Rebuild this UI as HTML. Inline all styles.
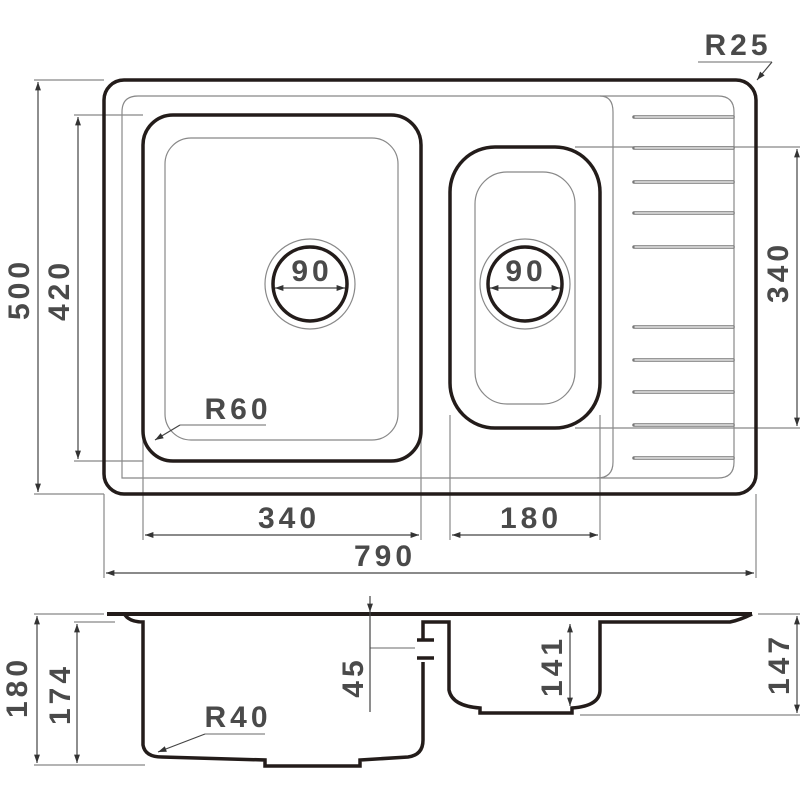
<!DOCTYPE html>
<html><head><style>
html,body{margin:0;padding:0;background:#fff;}
svg{display:block}
text{font-family:"Liberation Sans","DejaVu Sans",sans-serif;font-weight:bold;fill:#4a4a4a;font-size:30px;letter-spacing:4px;}
</style></head><body>
<svg width="800" height="800" viewBox="0 0 800 800" xmlns="http://www.w3.org/2000/svg">
<defs>
<marker id="a" viewBox="0 0 10 10" refX="10" refY="5" markerWidth="9" markerHeight="7" orient="auto-start-reverse"><path d="M0,1.5 L10,5 L0,8.5 z" fill="#333"/></marker>
</defs>
<g fill="none" stroke="#888" stroke-width="1.2">
<line x1="34" y1="80" x2="104" y2="80"/><line x1="34" y1="494" x2="104" y2="494"/>
<line x1="74" y1="115" x2="143" y2="115"/><line x1="74" y1="461" x2="143" y2="461"/>
<line x1="575" y1="147" x2="800" y2="147"/><line x1="575" y1="428" x2="800" y2="428"/>
<line x1="143" y1="435" x2="143" y2="540"/><line x1="421" y1="435" x2="421" y2="540"/>
<line x1="450" y1="415" x2="450" y2="540"/><line x1="600" y1="415" x2="600" y2="540"/>
<line x1="104" y1="494" x2="104" y2="578"/><line x1="756" y1="494" x2="756" y2="578"/>
<path d="M122,478 V112 Q122,96 138,96 H718 Q734,96 734,112 V462 Q734,478 718,478 Z"/>
<path d="M600,96 Q613,96 613,112 V462 Q613,478 597,478"/>
<rect x="165" y="138" width="233" height="302" rx="26"/>
<rect x="475" y="172" width="100" height="232" rx="32"/>
<circle cx="310" cy="284" r="45"/><circle cx="525" cy="284" r="45"/>
<line x1="698" y1="62" x2="772" y2="62"/>
<line x1="180" y1="425" x2="266" y2="425"/>
<line x1="205" y1="734" x2="265" y2="734"/>
<line x1="34" y1="614" x2="104" y2="614"/><line x1="34" y1="765" x2="145" y2="765"/>
<line x1="74" y1="622" x2="115" y2="622"/>
<line x1="758" y1="614" x2="800" y2="614"/><line x1="580" y1="715" x2="800" y2="715"/>
<line x1="370" y1="648" x2="415" y2="648"/>
</g>
<g fill="none" stroke="#777" stroke-width="3.5" stroke-linecap="round">
<line x1="634" y1="117" x2="733" y2="117"/><line x1="634" y1="148" x2="733" y2="148"/>
<line x1="634" y1="182" x2="733" y2="182"/><line x1="634" y1="213" x2="733" y2="213"/>
<line x1="634" y1="247" x2="733" y2="247"/><line x1="634" y1="327" x2="733" y2="327"/>
<line x1="634" y1="360" x2="733" y2="360"/><line x1="634" y1="392" x2="733" y2="392"/>
<line x1="634" y1="425" x2="733" y2="425"/><line x1="634" y1="458" x2="733" y2="458"/>
</g>
<g fill="none" stroke="#fff" stroke-width="1.2" stroke-linecap="round">
<line x1="635" y1="117" x2="733" y2="117"/><line x1="635" y1="148" x2="733" y2="148"/>
<line x1="635" y1="182" x2="733" y2="182"/><line x1="635" y1="213" x2="733" y2="213"/>
<line x1="635" y1="247" x2="733" y2="247"/><line x1="635" y1="327" x2="733" y2="327"/>
<line x1="635" y1="360" x2="733" y2="360"/><line x1="635" y1="392" x2="733" y2="392"/>
<line x1="635" y1="425" x2="733" y2="425"/><line x1="635" y1="458" x2="733" y2="458"/>
</g>
<g fill="none" stroke="#231c1a" stroke-width="3.5">
<rect x="104" y="80" width="652" height="414" rx="20"/>
<rect x="143" y="115" width="278" height="346" rx="30"/>
<rect x="450" y="147" width="150" height="281" rx="45"/>
<circle cx="310" cy="284" r="37"/><circle cx="525" cy="284" r="37"/>
<path d="M107,614 H752" stroke-width="4"/>
<path d="M125,615 Q130,622 143,622 V745 Q145,757 162,757 L265,760 V766 H360 V760 L408,757 Q423,755 423,740 V662"/>
<path d="M423,640 V622 H449 V690 Q452,706 480,708 V713 H572 V708 Q600,706 600,690 V622 H730 Q740,620 752,614"/>
<line x1="417" y1="640" x2="434" y2="640"/><line x1="417" y1="658" x2="434" y2="658"/>
</g>
<g fill="none" stroke="#444" stroke-width="1.2">
<line x1="38" y1="82" x2="38" y2="492" marker-start="url(#a)" marker-end="url(#a)"/>
<line x1="78" y1="117" x2="78" y2="459" marker-start="url(#a)" marker-end="url(#a)"/>
<line x1="797" y1="149" x2="797" y2="426" marker-start="url(#a)" marker-end="url(#a)"/>
<line x1="145" y1="535" x2="419" y2="535" marker-start="url(#a)" marker-end="url(#a)"/>
<line x1="452" y1="535" x2="598" y2="535" marker-start="url(#a)" marker-end="url(#a)"/>
<line x1="106" y1="573" x2="754" y2="573" marker-start="url(#a)" marker-end="url(#a)"/>
<line x1="275" y1="288" x2="345" y2="288" marker-start="url(#a)" marker-end="url(#a)"/>
<line x1="490" y1="288" x2="560" y2="288" marker-start="url(#a)" marker-end="url(#a)"/>
<line x1="772" y1="62" x2="757" y2="80" marker-end="url(#a)"/>
<line x1="180" y1="425" x2="155" y2="440" marker-end="url(#a)"/>
<line x1="205" y1="734" x2="158" y2="752" marker-end="url(#a)"/>
<line x1="37" y1="616" x2="37" y2="763" marker-start="url(#a)" marker-end="url(#a)"/>
<line x1="77" y1="624" x2="77" y2="763" marker-start="url(#a)" marker-end="url(#a)"/>
<line x1="370" y1="596" x2="370" y2="612" marker-end="url(#a)"/>
<line x1="370" y1="612" x2="370" y2="712"/>
<line x1="570" y1="624" x2="570" y2="706" marker-start="url(#a)" marker-end="url(#a)"/>
<line x1="797" y1="616" x2="797" y2="713" marker-start="url(#a)" marker-end="url(#a)"/>
</g>
<text x="738" y="55" text-anchor="middle">R25</text>
<text x="238" y="419" text-anchor="middle">R60</text>
<text x="289" y="528" text-anchor="middle">340</text>
<text x="531" y="528" text-anchor="middle">180</text>
<text x="385" y="566" text-anchor="middle">790</text>
<text x="312" y="281" text-anchor="middle">90</text>
<text x="526" y="281" text-anchor="middle">90</text>
<text x="238" y="727" text-anchor="middle">R40</text>
<text transform="translate(29,289) rotate(-90)" text-anchor="middle">500</text>
<text transform="translate(69,290) rotate(-90)" text-anchor="middle">420</text>
<text transform="translate(788,272) rotate(-90)" text-anchor="middle">340</text>
<text transform="translate(27,687) rotate(-90)" text-anchor="middle">180</text>
<text transform="translate(70,694) rotate(-90)" text-anchor="middle">174</text>
<text transform="translate(363,677) rotate(-90)" text-anchor="middle">45</text>
<text transform="translate(562,666) rotate(-90)" text-anchor="middle">141</text>
<text transform="translate(789,664) rotate(-90)" text-anchor="middle">147</text>
</svg>
</body></html>
